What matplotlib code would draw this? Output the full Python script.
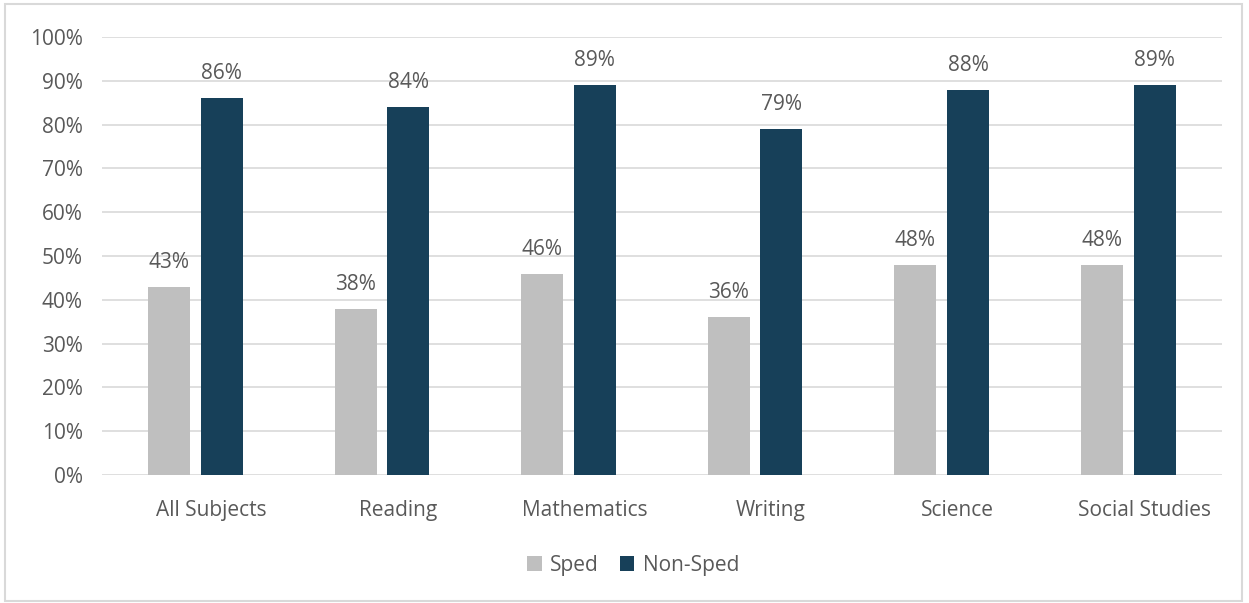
import numpy as np
import matplotlib.pyplot as plt
from matplotlib.patches import Rectangle
from matplotlib.transforms import ScaledTranslation

subjects = ["All Subjects", "Reading", "Mathematics", "Writing", "Science", "Social Studies"]
sped = [43, 38, 46, 36, 48, 48]
non_sped = [86, 84, 89, 79, 88, 89]

kolor_sped = "#bfbfbf"
kolor_non = "#174059"
tekst = "#595959"
fs = 15

plt.rcParams['font.family'] = ['Open Sans', 'DejaVu Sans']

fig = plt.figure(figsize=(12.49, 6.03), dpi=100)
ax = fig.add_axes([0.0817, 0.2123, 0.8963, 0.7263])

x = np.arange(len(subjects))
w = 0.225
b1 = ax.bar(x - 0.141, sped, w, color=kolor_sped, label="Sped", zorder=3)
b2 = ax.bar(x + 0.141, non_sped, w, color=kolor_non, label="Non-Sped", zorder=3)

for bars, vals in ((b1, sped), (b2, non_sped)):
    for r, v in zip(bars, vals):
        ax.annotate(f"{v}%", (r.get_x() + r.get_width() / 2, v),
                    xytext=(0, 10), textcoords="offset points",
                    ha="center", va="bottom", fontsize=fs, color=tekst)

ax.set_xlim(-0.5, len(subjects) - 0.5)
ax.set_ylim(0, 100)
ax.set_yticks(range(0, 101, 10))
ax.set_yticklabels([f"{t}%" for t in range(0, 101, 10)])
ax.set_xticks(x)
ax.set_xticklabels(subjects)
ax.tick_params(axis="both", length=0, labelsize=fs, colors=tekst)
ax.tick_params(axis="y", pad=14)
ax.tick_params(axis="x", pad=18)
# etykiety kategorii lekko przesuniete w prawo
przes = ScaledTranslation(0.16, 0, fig.dpi_scale_trans)
for lab in ax.get_xticklabels():
    lab.set_transform(lab.get_transform() + przes)
ax.grid(axis="y", color="#d9d9d9", lw=1.2, zorder=0)
for s in ax.spines.values():
    s.set_visible(False)

fig.legend(loc="center", bbox_to_anchor=(0.507, 0.063), ncol=2, frameon=False,
           fontsize=fs, labelcolor=tekst, handlelength=0.7, handleheight=0.7,
           handletextpad=0.4, columnspacing=1.0)

fig.patches.append(Rectangle((0.004, 0.003), 0.99, 0.99, transform=fig.transFigure,
                             fill=False, edgecolor="#d9d9d9", lw=1.5))

fig.savefig("out.png", dpi=100)
